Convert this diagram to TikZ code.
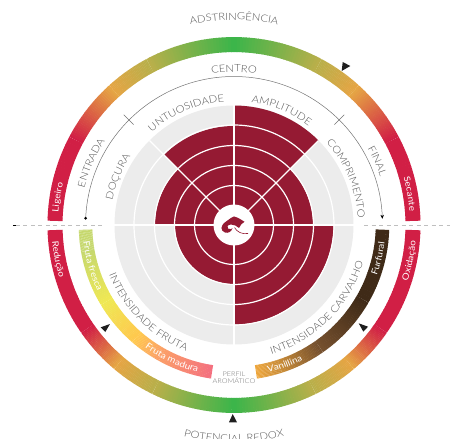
\documentclass[tikz,border=0pt]{standalone}
\usepackage{fontspec}
\setmainfont{Lato}
\newfontfamily\lab[FakeStretch=1.13]{Lato Light}
\newfontfamily\labw[FakeStretch=1.13]{Lato}
\usetikzlibrary{decorations.text,arrows.meta}
\definecolor{wine}{HTML}{951A33}
\definecolor{pale}{HTML}{ECECEC}
\definecolor{crim}{HTML}{D11F45}
\definecolor{ora}{HTML}{E5A544}
\definecolor{oli}{HTML}{B9AF4A}
\definecolor{gre}{HTML}{3CB54A}
\definecolor{lgre}{HTML}{C6D86E}
\definecolor{yel}{HTML}{EFE854}
\definecolor{gold}{HTML}{FFC94E}
\definecolor{pch}{HTML}{FB9E68}
\definecolor{pink}{HTML}{F4707F}
\definecolor{dbrown}{HTML}{3F2A17}
\definecolor{mbrown}{HTML}{75502E}
\definecolor{vora}{HTML}{EFA73C}
\definecolor{labgray}{HTML}{555555}
\newcommand\gradarc[6]{%
  \foreach \i in {1,...,30}{%
    \pgfmathsetmacro\p{100*(\i-1)/29}%
    \pgfmathsetmacro\s{#1+(#2-#1)*(\i-1)/30}%
    \pgfmathsetmacro\e{#1+(#2-#1)*min(\i+0.2,30)/30}%
    \draw[line width=#4bp,color={#6!\p!#5}] (\s:#3bp) arc[start angle=\s,end angle=\e,radius=#3bp];
  }}
\newcommand\bigf{\color{labgray}\lab\fontsize{10}{12}\selectfont}
\newcommand\smallf{\color{white}\labw\fontsize{8.8}{10}\selectfont}
\newcommand\arctext[5]{%
  \pgfmathsetmacro\ts{#2+#3}\pgfmathsetmacro\te{#2-#3}%
  \path[decorate,decoration={text along path,text align=center,text={|#4|#5}}]
    (\ts:#1bp) arc[start angle=\ts,end angle=\te,radius=#1bp];}
\tikzset{
  sector/.style={fill=wine,draw=none},
  whiteline/.style={draw=white,line width=1.2bp},
  guide/.style={draw=black!55,line width=0.5bp},
  pointer/.style={fill=black!88,draw=none},
  axis/.style={draw=black!25,line width=0.6bp,dash pattern=on 4bp off 3.5bp}
}
\begin{document}
\begin{tikzpicture}
\useasboundingbox (-234bp,-214bp) rectangle (218bp,225bp);
\clip (-234bp,-214bp) rectangle (218bp,225bp);
% plate
\fill[pale] (0,0) circle[radius=119.5bp];
\fill[sector] (0,0) -- (0:79bp) arc[start angle=0,end angle=45,radius=79bp] -- cycle;
\fill[sector] (0,0) -- (45:119.5bp) arc[start angle=45,end angle=90,radius=119.5bp] -- cycle;
\fill[sector] (0,0) -- (90:99bp) arc[start angle=90,end angle=135,radius=99bp] -- cycle;
\fill[sector] (0,0) -- (135:79bp) arc[start angle=135,end angle=180,radius=79bp] -- cycle;
\fill[sector] (0,0) -- (180:59bp) arc[start angle=180,end angle=270,radius=59bp] -- cycle;
\fill[sector] (0,0) -- (270:99.5bp) arc[start angle=270,end angle=360,radius=99.5bp] -- cycle;
\foreach \r in {39.5,59.5,79.5,100}{\draw[whiteline] (0,0) circle[radius=\r bp];}
\draw[whiteline] (-119.5bp,0) -- (119.5bp,0);
\draw[whiteline] (0,-119.5bp) -- (0,119.5bp);
\draw[whiteline] (0,0) -- (45:119.5bp);
\draw[whiteline] (0,0) -- (135:119.5bp);
% emblem
\fill[white] (0,0) circle[radius=20.5bp];
\fill[wine] (-12.5bp,-3bp) .. controls (-12bp,1bp) and (-9bp,3bp) .. (-6.5bp,4.5bp)
  .. controls (-4bp,6bp) and (-2bp,8.5bp) .. (0bp,8.5bp)
  .. controls (3bp,8bp) and (7bp,5.5bp) .. (10.5bp,3.2bp)
  .. controls (8bp,2bp) and (6.5bp,0bp) .. (5bp,-3bp)
  .. controls (3bp,-1bp) and (0bp,0.5bp) .. (-3bp,0.5bp)
  .. controls (-6bp,0.5bp) and (-8bp,-2bp) .. (-6bp,-3.5bp)
  .. controls (-3.5bp,-5bp) and (-2bp,-4bp) .. (-1.5bp,-3bp)
  .. controls (-2.5bp,-7bp) and (-6bp,-8.5bp) .. (-9bp,-7.5bp)
  .. controls (-11.5bp,-6.5bp) and (-12.5bp,-5bp) .. (-12.5bp,-3bp) -- cycle;
\draw[wine,line width=0.6bp] (0.5bp,-2.5bp) .. controls (3bp,-7bp) and (8bp,-9.5bp) .. (14bp,-8.5bp);
% axis
\coordinate (dl1) at (-218bp,0); \coordinate (dl2) at (-130bp,0);
\coordinate (dr1) at (130bp,0); \coordinate (dr2) at (216bp,0);
\draw[axis] (dl1) -- (dl2);
\draw[axis] (dr1) -- (dr2);
\draw[black,line width=1bp] (-221bp,0) -- (-218bp,0);
% outer rings
\begin{scope}[yscale=1.008]
\gradarc{178.7}{152}{179}{15}{crim}{crim}
\gradarc{152}{132}{179}{15}{crim}{ora}
\gradarc{132}{118}{179}{15}{ora}{oli}
\gradarc{118}{90}{179}{15}{oli}{gre}
\gradarc{90}{62}{179}{15}{gre}{oli}
\gradarc{62}{48}{179}{15}{oli}{ora}
\gradarc{48}{28}{179}{15}{ora}{crim}
\gradarc{28}{1.3}{179}{15}{crim}{crim}
\gradarc{181.6}{215}{179}{15}{crim}{crim}
\gradarc{215}{230}{179}{15}{crim}{ora}
\gradarc{230}{244}{179}{15}{ora}{oli}
\gradarc{244}{270}{179}{15}{oli}{gre}
\gradarc{270}{296}{179}{15}{gre}{oli}
\gradarc{296}{310}{179}{15}{oli}{ora}
\gradarc{310}{325}{179}{15}{ora}{crim}
\gradarc{325}{358.4}{179}{15}{crim}{crim}
\end{scope}
% inner rings
\gradarc{181.8}{190}{148.5}{13.5}{lgre}{lgre}
\gradarc{190}{211}{148.5}{13.5}{lgre}{yel}
\gradarc{211}{229}{148.5}{13.5}{yel}{gold}
\gradarc{229}{241}{148.5}{13.5}{gold}{pch}
\gradarc{241}{261.5}{148.5}{13.5}{pch}{pink}
\gradarc{278.5}{288}{148.5}{13.5}{vora}{vora!70!mbrown}
\gradarc{288}{305}{148.5}{13.5}{vora!70!mbrown}{mbrown}
\gradarc{305}{330}{148.5}{13.5}{mbrown}{dbrown}
\gradarc{330}{358.2}{148.5}{13.5}{dbrown}{dbrown}
% guide arc
\coordinate (gs) at (177.4:148.5bp);
\draw[guide,-{Stealth[length=4bp,width=3.5bp,black]}] (gs) arc[start angle=177.4,end angle=2.4,radius=148.5bp];
\fill[black] (gs) circle[radius=1.5bp];
\draw[guide] (135:142bp) -- (135:156bp);
\draw[guide] (45:142bp) -- (45:156bp);
% pointers
\fill[pointer] (107.7bp,154bp) -- (108.7bp,163bp) -- (116.3bp,159bp) -- cycle;
\fill[pointer] (-124bp,-99bp) -- (-133.3bp,-102.3bp) -- (-128.7bp,-107bp) -- cycle;
\fill[pointer] (124.7bp,-98.3bp) -- (134bp,-101.7bp) -- (129.3bp,-106.7bp) -- cycle;
\fill[pointer] (-1.3bp,-189bp) -- (-5bp,-197.3bp) -- (3bp,-197.3bp) -- cycle;
% labels
\arctext{205}{90}{40}{\bigf}{ADSTRINGÊNCIA}
\arctext{153}{90}{30}{\bigf}{CENTRO}
\arctext{124}{113}{35}{\bigf}{UNTUOSIDADE}
\arctext{124}{67.5}{35}{\bigf}{AMPLITUDE}
\arctext{124}{157.5}{20}{\bigf}{DOÇURA}
\arctext{124}{22.5}{35}{\bigf}{COMPRIMENTO}
\arctext{154}{156.5}{25}{\bigf}{ENTRADA}
\arctext{154}{24}{20}{\bigf}{FINAL}
\arctext{176}{171}{15}{\smallf}{Ligeiro}
\arctext{176}{10}{15}{\smallf}{Secante}
\arctext{182.5}{191}{-15}{\smallf}{Redução}
\arctext{182.5}{348.5}{-15}{\smallf}{Oxidação}
\arctext{151.5}{196}{-25}{\smallf}{Fruta fresca}
\arctext{151.5}{245}{-25}{\smallf}{Fruta madura}
\arctext{151.5}{290}{-15}{\smallf}{Vanillina}
\arctext{151.5}{347}{-15}{\smallf}{Furfural}
\arctext{134.5}{225.5}{-45}{\bigf}{INTENSIDADE FRUTA}
\arctext{134.5}{315}{-45}{\bigf}{INTENSIDADE CARVALHO}
\arctext{217}{270}{-25}{\bigf}{POTENCIAL REDOX}
\node[text=black!55,font=\lab\fontsize{6.5}{8}\selectfont,align=center,inner sep=0pt] (pa) at (0bp,-152.5bp) {PERFIL\\[-0.5pt]AROMÁTICO};
\end{tikzpicture}
\end{document}
